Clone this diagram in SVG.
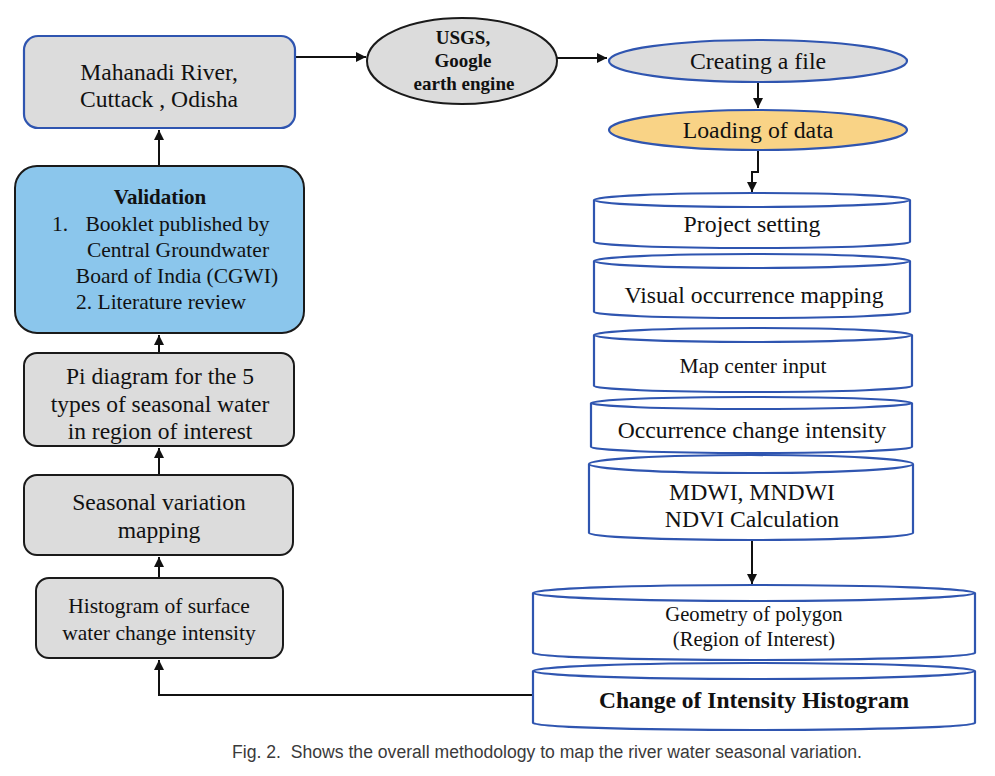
<svg xmlns="http://www.w3.org/2000/svg" width="995" height="776" viewBox="0 0 995 776">
<style>
text{font-family:"Liberation Serif","Times New Roman",serif;fill:#111;text-anchor:middle}
.b{font-weight:bold}
.gbox{fill:#dcdcdc;stroke:#1a1a1a;stroke-width:2}
.cyl{fill:#fff;stroke:#2f55b0;stroke-width:2.2}
.conn{fill:none;stroke:#111;stroke-width:2}
</style>
<defs>
<marker id="ah" viewBox="0 0 10 10" refX="10" refY="5" markerWidth="10" markerHeight="10" markerUnits="userSpaceOnUse" orient="auto">
<path d="M0,0 L10,5 L0,10 z" fill="#111"/>
</marker>
</defs>
<rect width="995" height="776" fill="#fff"/>

<g id="connectors">
<path class="conn" d="M295,57 H366" marker-end="url(#ah)"/>
<path class="conn" d="M557,58 H607" marker-end="url(#ah)"/>
<path class="conn" d="M758,82 V108" marker-end="url(#ah)"/>
<path class="conn" d="M758,150 V172 H752 V192" marker-end="url(#ah)"/>
<path class="conn" d="M752,540 V584" marker-end="url(#ah)"/>
<path class="conn" d="M533,695 H159 V660" marker-end="url(#ah)"/>
<path class="conn" d="M159,166 V130" marker-end="url(#ah)"/>
<path class="conn" d="M159,353 V335" marker-end="url(#ah)"/>
<path class="conn" d="M159,475 V448" marker-end="url(#ah)"/>
<path class="conn" d="M159,578 V557" marker-end="url(#ah)"/>
</g>

<g id="mahanadi">
<rect x="24" y="36" width="271" height="92" rx="14" fill="#dcdcdc" stroke="#2f55b0" stroke-width="2.2"/>
<text x="159" y="80" font-size="23.6">Mahanadi River,</text>
<text x="159" y="107" font-size="23.6">Cuttack , Odisha</text>
</g>

<g id="validation">
<rect x="15" y="166" width="289" height="167" rx="22" fill="#8bc6ec" stroke="#1a1a1a" stroke-width="2"/>
<text x="160" y="204" font-size="21" class="b">Validation</text>
<text x="52" y="231" font-size="21.5" style="text-anchor:start">1.</text>
<text x="177.5" y="231" font-size="21.5">Booklet published by</text>
<text x="178" y="257" font-size="21.5">Central Groundwater</text>
<text x="177" y="283" font-size="21.5">Board of India (CGWI)</text>
<text x="76" y="309" font-size="21.5" style="text-anchor:start">2. Literature review</text>
</g>

<g id="pi">
<rect class="gbox" x="24" y="353" width="270" height="93" rx="13"/>
<text x="160" y="384" font-size="23.5">Pi diagram for the 5</text>
<text x="160" y="412" font-size="23.5">types of seasonal water</text>
<text x="160" y="439" font-size="23.5">in region of interest</text>
</g>

<g id="seasonal">
<rect class="gbox" x="24" y="475" width="269" height="80" rx="13"/>
<text x="159" y="510" font-size="23.6">Seasonal variation</text>
<text x="159" y="538" font-size="23.6">mapping</text>
</g>

<g id="histogram">
<rect class="gbox" x="36" y="578" width="247" height="80" rx="13"/>
<text x="159" y="613" font-size="21.5">Histogram of surface</text>
<text x="159" y="640" font-size="21.5">water change intensity</text>
</g>

<g id="usgs">
<ellipse cx="462" cy="61" rx="95" ry="43" fill="#dcdcdc" stroke="#1a1a1a" stroke-width="2"/>
<text x="463" y="44" font-size="19" class="b">USGS,</text>
<text x="463" y="67" font-size="19" class="b">Google</text>
<text x="464" y="90" font-size="19" class="b">earth engine</text>
</g>

<g id="creating">
<ellipse cx="758" cy="61" rx="149" ry="21" fill="#dcdcdc" stroke="#2f55b0" stroke-width="2.2"/>
<text x="758" y="69" font-size="23.8">Creating a file</text>
</g>

<g id="loading">
<ellipse cx="758" cy="130" rx="149" ry="20" fill="#f9d386" stroke="#2f55b0" stroke-width="2.2"/>
<text x="758" y="138" font-size="23.8">Loading of data</text>
</g>

<g id="project">
<path class="cyl" d="M594,200 V242 A158,6 0 0 0 910,242 V200"/>
<ellipse class="cyl" cx="752" cy="200" rx="158" ry="7"/>
<text x="752" y="232" font-size="23.8">Project setting</text>
</g>

<g id="visual">
<path class="cyl" d="M594,261 V312 A158,6 0 0 0 910,312 V261"/>
<ellipse class="cyl" cx="752" cy="261" rx="158" ry="7"/>
<text x="754" y="303" font-size="23.7">Visual occurrence mapping</text>
</g>

<g id="mapcenter">
<path class="cyl" d="M594,335 V386 A159,6 0 0 0 912,386 V335"/>
<ellipse class="cyl" cx="753" cy="335" rx="159" ry="7"/>
<text x="753" y="373" font-size="21.5">Map center input</text>
</g>

<g id="occurrence">
<path class="cyl" d="M591,403 V447 A160.5,6 0 0 0 912,447 V403"/>
<ellipse class="cyl" cx="751.5" cy="403" rx="160.5" ry="6"/>
<text x="752" y="438" font-size="23.6">Occurrence change intensity</text>
</g>

<g id="mdwi">
<path class="cyl" d="M589,464 V533 A162,7 0 0 0 913,533 V464"/>
<ellipse class="cyl" cx="751" cy="464" rx="162" ry="9"/>
<text x="752" y="500" font-size="23.7">MDWI, MNDWI</text>
<text x="752" y="527" font-size="23.7">NDVI Calculation</text>
</g>

<g id="geometry">
<path class="cyl" d="M533,593 V653 A221,7 0 0 0 975,653 V593"/>
<ellipse class="cyl" cx="754" cy="593" rx="221" ry="8"/>
<text x="754" y="621" font-size="20.6">Geometry of polygon</text>
<text x="754" y="646" font-size="20.6">(Region of Interest)</text>
</g>

<g id="change">
<path class="cyl" d="M533,671 V723 A221,7 0 0 0 975,723 V671"/>
<ellipse class="cyl" cx="754" cy="671" rx="221" ry="8"/>
<text x="754" y="708" font-size="23.5" class="b">Change of Intensity Histogram</text>
</g>

<text x="547" y="758" font-size="17.6" style="font-family:'Liberation Sans',Arial,sans-serif;fill:#3a3a3a" xml:space="preserve">Fig. 2.  Shows the overall methodology to map the river water seasonal variation.</text>
</svg>
